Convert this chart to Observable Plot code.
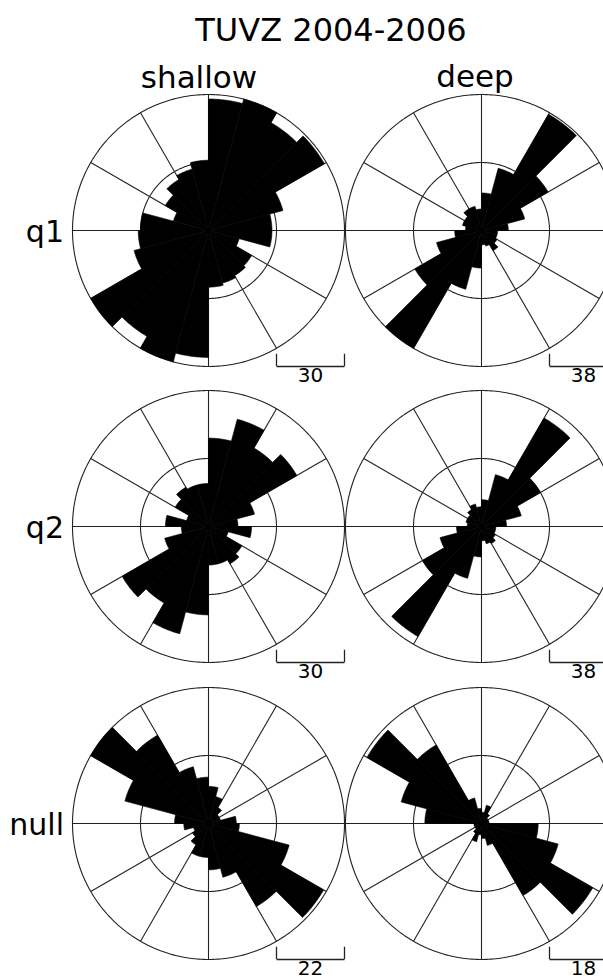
<!DOCTYPE html>
<html><head><meta charset="utf-8">
<script src="https://cdn.jsdelivr.net/npm/d3@7"></script>
<script src="https://cdn.jsdelivr.net/npm/@observablehq/plot@0.6"></script>
<style>
html,body{margin:0;padding:0;background:#fff;}
#fig{position:relative;width:603px;height:980px;overflow:hidden;background:#fff;font-family:"DejaVu Sans";color:#000;}
.lbl{position:absolute;line-height:1;white-space:nowrap;}
</style></head><body><div id="fig"></div>
<script>
// ---- data ----
const title = "TUVZ 2004-2006";
const columns = ["shallow", "deep"];
const rowNames = ["q1", "q2", "null"];
const binWidth = 15;
const binStarts = [0,15,30,45,60,75,90,105,120,135,150,165,180,195,210,225,240,255,270,285,300,315,330,345];
// counts per 15° azimuth bin (clockwise from north)
const shallowQ1  = [58,60,55,59,34,28,28,14,22,23,24,25,56,60,54,60,34,31,30,16,22,26,28,31];
const deepQ1     = [21,36,75,43,25,15,9,9,10,13,9,8,21,34,76,43,26,15,9,11,11,14,14,12];
const shallowQ2  = [39,49,40,45,21,13,19,9,17,19,17,17,39,49,39,44,20,12,19,10,17,20,19,19];
const deepQ2     = [15,30,70,38,23,14,8,8,9,11,10,8,17,30,71,38,24,14,8,9,9,11,13,11];
const shallowNull= [12,9,6,4,4,9,10,27,43,31,18,15,11,11,8,6,5,8,11,28,44,33,19,15];
const deepNull   = [3,5,3,2,2,2,15,21,34,22,6,4,3,5,3,2,2,2,15,22,35,24,7,4];
// scale-bar labels (bar length = half of outer ring)
const scaleBars  = [30, 38, 30, 38, 22, 18];
const gridFractions = [1, 0.5];
const spokeAngles = [0,30,60,90,120,150,180,210,240,270,300,330];

const series = [shallowQ1, deepQ1, shallowQ2, deepQ2, shallowNull, deepNull];

// ---- layout ----
const fig = document.getElementById("fig");
const R = 136;
const colX = [208, 481];
const rowY = [230, 526, 823];
const font = '"DejaVu Sans"';
const rad = a => a * Math.PI / 180;

function addLabel(text, size, x, baseline, align) {
  const d = document.createElement("div");
  d.className = "lbl";
  d.textContent = text;
  d.style.fontSize = size + "px";
  d.style.fontFamily = font;
  const top = baseline - (0.5 * (size - 1.164 * size) + 0.928 * size);
  d.style.top = top + "px";
  if (align === "center") { d.style.left = (x - 200) + "px"; d.style.width = "400px"; d.style.textAlign = "center"; }
  else { d.style.left = (x - 200) + "px"; d.style.width = "200px"; d.style.textAlign = "right"; }
  fig.appendChild(d);
}

function rose(values, label, cx, cy) {
  const vmax = 2 * label;
  const sectors = [];
  values.forEach((v, i) => {
    const a0 = binStarts[i];
    sectors.push({bin: i, x: 0, y: 0});
    for (let a = a0; a <= a0 + binWidth + 1e-9; a += 1) {
      sectors.push({bin: i, x: v * Math.sin(rad(a)), y: v * Math.cos(rad(a))});
    }
    sectors.push({bin: i, x: 0, y: 0});
  });
  const rings = [];
  gridFractions.forEach((f, k) => {
    for (let a = 0; a <= 360; a += 1) rings.push({ring: k, x: f * vmax * Math.sin(rad(a)), y: f * vmax * Math.cos(rad(a))});
  });
  const P = 140;
  const svg = Plot.plot({
    width: 290, height: 310, margin: 0,
    x: {domain: [-vmax, vmax], range: [P - R, P + R], axis: null},
    y: {domain: [-vmax, vmax], range: [P + R, P - R], axis: null},
    style: {background: "transparent", overflow: "visible", fontFamily: font},
    marks: [
      Plot.line(rings, {x: "x", y: "y", z: "ring", stroke: "#222", strokeWidth: 1.1, curve: "linear"}),
      Plot.link(spokeAngles, {x1: 0, y1: 0, x2: a => vmax * Math.sin(rad(a)), y2: a => vmax * Math.cos(rad(a)), stroke: "#222", strokeWidth: 1.1}),
      Plot.line(sectors, {x: "x", y: "y", z: "bin", fill: "black", stroke: "black", strokeWidth: 0.6, curve: "linear"}),
      Plot.link([label], {x1: d => d, x2: vmax, y1: -vmax, y2: -vmax, stroke: "#222", strokeWidth: 1.3}),
      Plot.ruleX([label, vmax], {y1: -vmax, y2: -vmax * 0.91, stroke: "#222", strokeWidth: 1.3}),
      Plot.text([label], {x: d => 1.5 * d, y: -vmax, dy: 9.5, text: d => String(d), fontSize: 20, fontFamily: font, fill: "black"})
    ]
  });
  svg.style.position = "absolute";
  svg.style.left = (cx - P) + "px";
  svg.style.top = (cy - P) + "px";
  svg.style.maxWidth = "none";
  fig.appendChild(svg);
}

series.forEach((vals, i) => {
  const r = Math.floor(i / 2), c = i % 2;
  rose(vals, scaleBars[i], colX[c], rowY[r]);
});

addLabel(title, 32, 331, 41, "center");
addLabel(columns[0], 31, 199, 88, "center");
addLabel(columns[1], 31, 475, 87, "center");
rowNames.forEach((n, r) => addLabel(n, 30, 64, rowY[r] + 12.5, "right"));
</script></body></html>
